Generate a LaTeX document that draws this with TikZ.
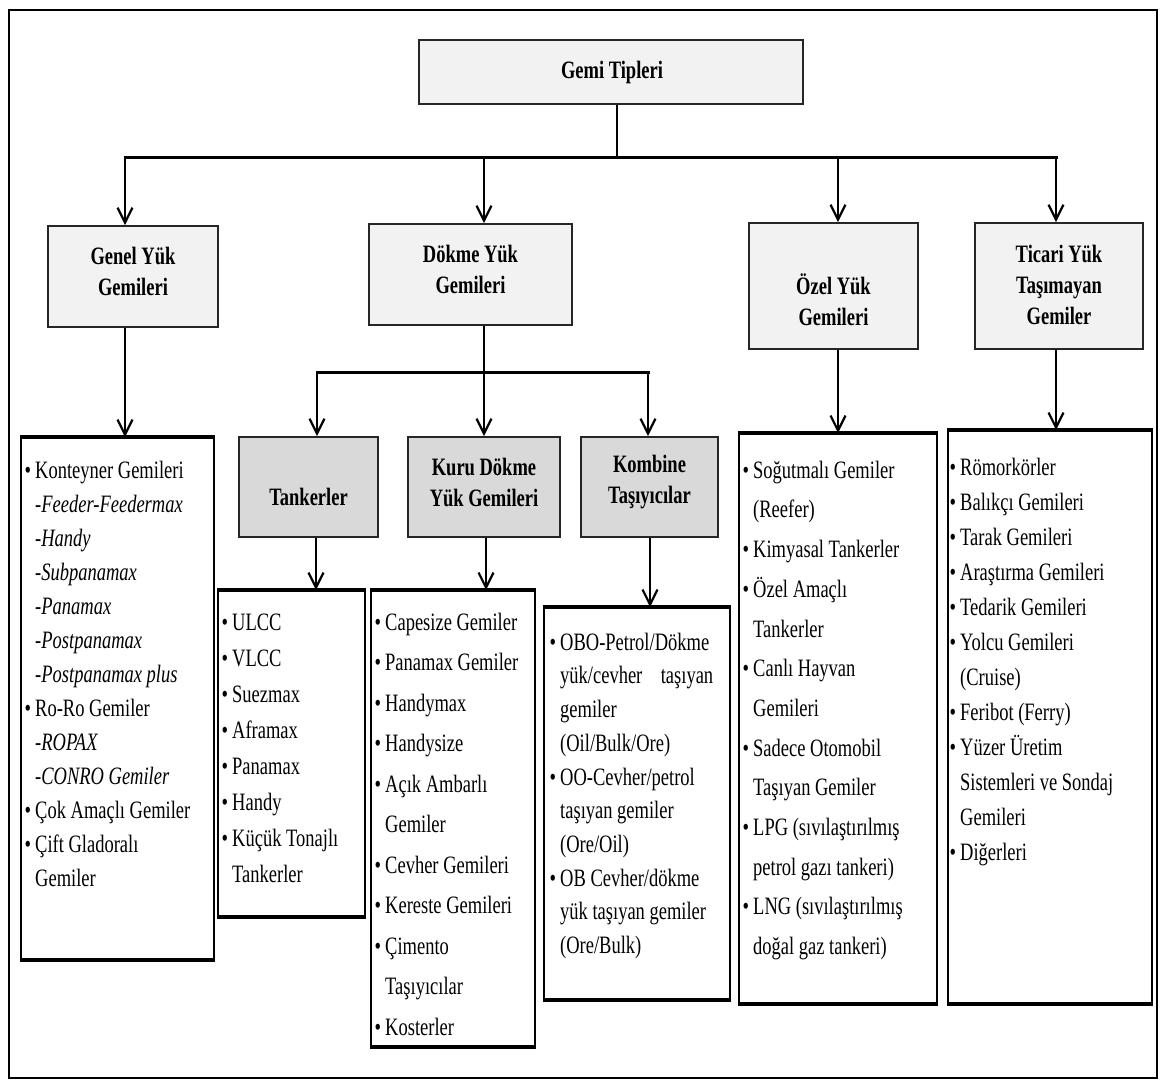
\documentclass[tikz,border=0pt]{standalone}
\usepackage{fontspec}
\setmainfont{Liberation Serif}[FakeStretch=0.74]
\usetikzlibrary{arrows.meta}
\definecolor{lvlone}{HTML}{F2F2F2}
\definecolor{lvltwo}{HTML}{D9D9D9}
\newcommand{\bul}{\llap{\textbullet\hspace{4pt}}}
\tikzset{
  conn/.style={line width=2.4pt},
  arr/.style={conn, -{Straight Barb[length=15pt,width=15pt,line width=2.2pt]}},
  busline/.style={line width=3pt, line cap=rect},
  hbox/.style={draw=black!85, line width=1.8pt, fill=lvlone, inner sep=0pt},
  hboxdark/.style={hbox, fill=lvltwo},
  htext/.style={font=\fontsize{25}{31}\selectfont\bfseries, align=center, inner sep=0pt},
  lbox/.style={draw, line width=2.2pt, inner sep=0pt, anchor=north west},
  ltext/.style={inner sep=0pt, anchor=north west, align=left},
  edgeline/.style={line width=4.5pt},
}
\begin{document}
\begin{tikzpicture}[x=1pt,y=-1pt]
\useasboundingbox (0,0) rectangle (1163,1090);
\draw[line width=2.6pt] (9,10) rectangle (1157,1078);

% top level
\node[hbox, minimum width=384pt, minimum height=64pt] (gemi) at (611,72) {};
\node[htext] (gemi-t) at (612,72) {Gemi Tipleri};

% main categories
\node[hbox, minimum width=170pt, minimum height=101pt] (genel) at (133,276.5) {};
\node[htext] (genel-t) at (133,271) {Genel Yük\\Gemileri};
\node[hbox, minimum width=203pt, minimum height=101pt] (dokme) at (470.5,274.5) {};
\node[htext] (dokme-t) at (470.5,269) {Dökme Yük\\Gemileri};
\node[hbox, minimum width=169pt, minimum height=126pt] (ozel) at (833.5,286) {};
\node[htext] (ozel-t) at (833.5,300) {Özel Yük\\Gemileri};
\node[hbox, minimum width=168pt, minimum height=126pt] (ticari) at (1059,286) {};
\node[htext] (ticari-t) at (1059,285) {Ticari Yük\\Taşımayan\\Gemiler};

% bulk sub-categories
\node[hboxdark, minimum width=139pt, minimum height=100pt] (tank) at (308.5,487) {};
\node[htext] (tank-t) at (308.5,497) {Tankerler};
\node[hboxdark, minimum width=152pt, minimum height=100pt] (kuru) at (484,487) {};
\node[htext] (kuru-t) at (484,482) {Kuru Dökme\\Yük Gemileri};
\node[hboxdark, minimum width=137pt, minimum height=100pt] (komb) at (649.5,487) {};
\node[htext] (komb-t) at (649.5,482) {Kombine\\Taşıyıcılar};

% list boxes
\node[lbox, minimum width=193pt, minimum height=521pt] (genelL) at (20,437) {};
\node[lbox, minimum width=147pt, minimum height=325pt] (tankL) at (217,590) {};
\node[lbox, minimum width=164pt, minimum height=455pt] (kuruL) at (370,590) {};
\node[lbox, minimum width=186pt, minimum height=391pt] (kombL) at (543,607) {};
\node[lbox, minimum width=198pt, minimum height=569pt] (ozelL) at (738,433) {};
\node[lbox, minimum width=204pt, minimum height=572pt] (ticL) at (947,430) {};
\foreach \n in {genelL,tankL,kuruL,kombL,ozelL,ticL}{
  \draw[edgeline] (\n.north west) -- (\n.north east);
  \draw[edgeline] (\n.south west) -- (\n.south east);
}

% list texts
\node[ltext, font=\fontsize{25}{34}\selectfont] (genel-l) at (35,454.2) {%
\strut\bul Konteyner Gemileri\\
\textit{-Feeder-Feedermax}\\
\textit{-Handy}\\
\textit{-Subpanamax}\\
\textit{-Panamax}\\
\textit{-Postpanamax}\\
\textit{-Postpanamax plus}\\
\bul Ro-Ro Gemiler\\
\textit{-ROPAX}\\
\textit{-CONRO Gemiler}\\
\bul Çok Amaçlı Gemiler\\
\bul Çift Gladoralı\\
Gemiler};

\node[ltext, font=\fontsize{25}{36}\selectfont] (tank-l) at (232,604.8) {%
\strut\bul ULCC\\
\bul VLCC\\
\bul Suezmax\\
\bul Aframax\\
\bul Panamax\\
\bul Handy\\
\bul Küçük Tonajlı\\
Tankerler};

\node[ltext, font=\fontsize{25}{40.5}\selectfont] (kuru-l) at (385,601.7) {%
\strut\bul Capesize Gemiler\\
\bul Panamax Gemiler\\
\bul Handymax\\
\bul Handysize\\
\bul Açık Ambarlı\\
Gemiler\\
\bul Cevher Gemileri\\
\bul Kereste Gemileri\\
\bul Çimento\\
Taşıyıcılar\\
\bul Kosterler};

\node[ltext, font=\fontsize{25}{33.7}\selectfont] (komb-l) at (560,626.4) {%
\strut\bul OBO-Petrol/Dökme\\
\makebox[153pt][s]{yük/cevher taşıyan}\\
gemiler\\
(Oil/Bulk/Ore)\\
\bul OO-Cevher/petrol\\
taşıyan gemiler\\
(Ore/Oil)\\
\bul OB Cevher/dökme\\
yük taşıyan gemiler\\
(Ore/Bulk)};

\node[ltext, font=\fontsize{25}{39.7}\selectfont] (ozel-l) at (753,450.2) {%
\strut\bul Soğutmalı Gemiler\\
(Reefer)\\
\bul Kimyasal Tankerler\\
\bul Özel Amaçlı\\
Tankerler\\
\bul Canlı Hayvan\\
Gemileri\\
\bul Sadece Otomobil\\
Taşıyan Gemiler\\
\bul LPG (sıvılaştırılmış\\
petrol gazı tankeri)\\
\bul LNG (sıvılaştırılmış\\
doğal gaz tankeri)};

\node[ltext, font=\fontsize{25}{35}\selectfont] (tic-l) at (960,450.5) {%
\strut\bul Römorkörler\\
\bul Balıkçı Gemileri\\
\bul Tarak Gemileri\\
\bul Araştırma Gemileri\\
\bul Tedarik Gemileri\\
\bul Yolcu Gemileri\\
(Cruise)\\
\bul Feribot (Ferry)\\
\bul Yüzer Üretim\\
Sistemleri ve Sondaj\\
Gemileri\\
\bul Diğerleri};

% top bus
\coordinate (g0) at (617,157);
\coordinate (b1) at (125,157);
\coordinate (b2) at (484,157);
\coordinate (b3) at (838,157);
\coordinate (b4) at (1056,157);
\draw[conn] (g0 |- gemi.south) -- (g0);
\draw[busline] (b1) -- (b4);
\draw[arr] (b1) -- (b1 |- genel.north);
\draw[arr] (b2) -- (b2 |- dokme.north);
\draw[arr] (b3) -- (b3 |- ozel.north);
\draw[arr] (b4) -- (b4 |- ticari.north);

% main categories to their lists
\draw[arr] (b1 |- genel.south) -- (b1 |- genelL.north);
\draw[arr] (b3 |- ozel.south) -- (b3 |- ozelL.north);
\draw[arr] (b4 |- ticari.south) -- (b4 |- ticL.north);

% bulk bus
\coordinate (d1) at (317,372);
\coordinate (d2) at (484,372);
\coordinate (d3) at (648,372);
\draw[conn] (d2 |- dokme.south) -- (d2);
\draw[busline] (d1) -- (d3);
\draw[arr] (d1) -- (d1 |- tank.north);
\draw[arr] (d2) -- (d2 |- kuru.north);
\draw[arr] (d3) -- (d3 |- komb.north);

% bulk sub-categories to their lists
\coordinate (t1) at (316,0);
\coordinate (t2) at (486,0);
\coordinate (t3) at (650,0);
\draw[arr] (t1 |- tank.south) -- (t1 |- tankL.north);
\draw[arr] (t2 |- kuru.south) -- (t2 |- kuruL.north);
\draw[arr] (t3 |- komb.south) -- (t3 |- kombL.north);
\end{tikzpicture}
\end{document}
